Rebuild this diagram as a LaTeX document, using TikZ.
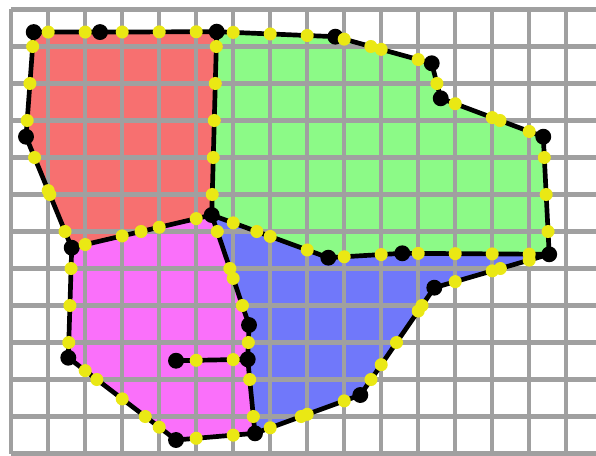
\documentclass[tikz,border=0pt]{standalone}
\usepackage{tikz}
\usetikzlibrary{intersections}

\definecolor{redfill}{RGB}{247,112,112}
\definecolor{greenfill}{RGB}{140,250,135}
\definecolor{bluefill}{RGB}{112,120,250}
\definecolor{pinkfill}{RGB}{250,112,250}
\definecolor{crossyellow}{RGB}{234,232,20}
\definecolor{gridgray}{RGB}{160,160,160}

\begin{document}
\begin{tikzpicture}[
  gridline/.style={draw=gridgray, line width=3.3pt},
  border/.style={draw=black, line width=3.6pt, line join=round, line cap=round},
  corner/.style={fill=black},
  crossing/.style={fill=crossyellow}
]
\useasboundingbox (-0.303,-0.041) rectangle (15.805,12.257);
\coordinate (p1) at (0.608,11.39);
\coordinate (p2) at (2.400,11.39);
\coordinate (p3) at (5.554,11.40);
\coordinate (p4) at (0.400,8.562);
\coordinate (p5) at (5.419,6.446);
\coordinate (p6) at (1.635,5.562);
\coordinate (p7) at (8.760,11.265);
\coordinate (p8) at (11.365,10.546);
\coordinate (p9) at (11.608,9.600);
\coordinate (p10) at (14.380,8.562);
\coordinate (p11) at (14.540,5.384);
\coordinate (p12) at (10.570,5.411);
\coordinate (p13) at (8.570,5.292);
\coordinate (p14) at (11.435,4.481);
\coordinate (p15) at (9.435,1.581);
\coordinate (p16) at (6.589,0.546);
\coordinate (p17) at (6.392,2.546);
\coordinate (p18) at (6.427,3.473);
\coordinate (p19) at (1.543,2.589);
\coordinate (p20) at (4.454,0.365);
\coordinate (p21) at (4.454,2.508);

\fill[redfill] (p1) -- (p2) -- (p3) -- (p5) -- (p6) -- (p4) -- cycle;
\fill[greenfill] (p3) -- (p7) -- (p8) -- (p9) -- (p10) -- (p11) -- (p12) -- (p13) -- (p5) -- cycle;
\fill[bluefill] (p5) -- (p13) -- (p12) -- (p11) -- (p14) -- (p15) -- (p16) -- (p17) -- (p18) -- cycle;
\fill[pinkfill] (p6) -- (p5) -- (p18) -- (p17) -- (p16) -- (p20) -- (p19) -- cycle;

\draw[gridline, name path=grid]
  foreach \gx in {0,...,15} {(\gx,0) -- (\gx,12)}
  foreach \gy in {0,...,12} {(0,\gy) -- (15.9,\gy)};

\draw[border, name path=net]
  (p1) -- (p2) -- (p3) -- (p7) -- (p8) -- (p9) -- (p10) -- (p11) -- (p14) -- (p15)
  -- (p16) -- (p20) -- (p19) -- (p6) -- (p4) -- cycle
  (p3) -- (p5) -- (p6)
  (p5) -- (p13) -- (p12) -- (p11)
  (p5) -- (p18) -- (p17) -- (p16)
  (p17) -- (p21);

\foreach \v in {1,...,21}
  \fill[corner] (p\v) circle (0.215);

\fill[crossing, name intersections={of=grid and net, name=x, total=\t}]
  \foreach \s in {1,...,\t} {(x-\s) circle (0.176)};
\end{tikzpicture}
\end{document}
